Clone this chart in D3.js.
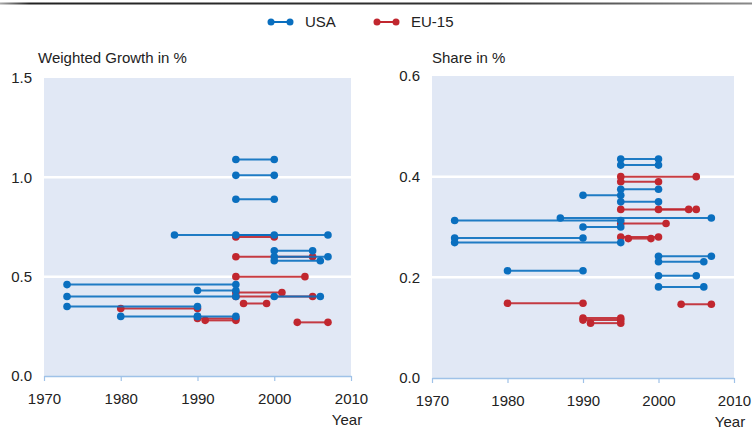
<!DOCTYPE html>
<html><head><meta charset="utf-8">
<script src="https://cdn.jsdelivr.net/npm/d3@7"></script>
<style>
body{margin:0;background:#fff;}
svg text{font-family:"Liberation Sans",Arial,sans-serif;fill:#222;}
</style></head>
<body><svg id="c" width="752" height="432"></svg>
<script>
// ---- data: each segment = [startYear, endYear, value]
const seriesNames = ["USA", "EU-15"];
const xTicks = [1970, 1980, 1990, 2000, 2010];
const growthTicks = [0.0, 0.5, 1.0, 1.5];
const shareTicks = [0.0, 0.2, 0.4, 0.6];

const growthUSA = [
  [1995, 2000, 1.09], [1995, 2000, 1.01], [1995, 2000, 0.89], [1987, 2007, 0.71],
  [1995, 2000, 0.71], [2000, 2005, 0.63], [2000, 2007, 0.60], [2000, 2006, 0.58],
  [1973, 1995, 0.46], [1990, 1995, 0.43], [1973, 1995, 0.40], [2000, 2006, 0.40],
  [1973, 1990, 0.35], [1980, 1990, 0.30], [1990, 1995, 0.30]
];
const growthEU = [
  [1995, 2000, 0.70], [1995, 2005, 0.60], [1995, 2004, 0.50], [1995, 2001, 0.42],
  [1995, 2005, 0.40], [1996, 1999, 0.365], [1980, 1990, 0.34], [1990, 1995, 0.29],
  [1991, 1995, 0.28], [2003, 2007, 0.27]
];
const shareUSA = [
  [1995, 2000, 0.435], [1995, 2000, 0.423], [1995, 2000, 0.375], [1990, 1995, 0.363],
  [1995, 2000, 0.35], [1987, 2007, 0.318], [1973, 1995, 0.313], [1990, 1995, 0.30],
  [1973, 1990, 0.278], [1973, 1995, 0.269], [2000, 2007, 0.242], [2000, 2006, 0.231],
  [1980, 1990, 0.213], [2000, 2005, 0.203], [2000, 2006, 0.181]
];
const shareEU = [
  [1995, 2005, 0.40], [1995, 2000, 0.39], [1995, 2005, 0.335], [2000, 2004, 0.335],
  [1995, 2001, 0.307], [1995, 2000, 0.28], [1996, 1999, 0.277], [1980, 1990, 0.1485],
  [2003, 2007, 0.1465], [1990, 1995, 0.119], [1990, 1995, 0.115], [1991, 1995, 0.109]
];

const colors = {"USA": "#0a6fbf", "EU-15": "#c1272f"};
const FS = 15;
const svg = d3.select("#c");

// top rule
const defs = svg.append("defs");
const g0 = defs.append("linearGradient").attr("id", "topg");
g0.append("stop").attr("offset", "0%").attr("stop-color", "#aaa");
g0.append("stop").attr("offset", "4%").attr("stop-color", "#222");
g0.append("stop").attr("offset", "65%").attr("stop-color", "#333");
g0.append("stop").attr("offset", "100%").attr("stop-color", "#8a8a8a");
svg.append("rect").attr("x", 0).attr("y", 2.5).attr("width", 752).attr("height", 2).attr("fill", "url(#topg)");

// legend
const legendX = [270, 376];
seriesNames.forEach((n, i) => {
  const lg = svg.append("g").attr("transform", `translate(${legendX[i]},22)`);
  lg.append("line").attr("x1", 1).attr("x2", 20).attr("y1", 0).attr("y2", 0)
    .attr("stroke", colors[n]).attr("stroke-width", 2);
  [1, 20].forEach(cx => lg.append("circle").attr("cx", cx).attr("cy", 0).attr("r", 3.5).attr("fill", colors[n]));
  lg.append("text").attr("x", 35).attr("y", 0).attr("dy", "0.35em").attr("font-size", FS).text(n);
});

function panel(opt) {
  const x = d3.scaleLinear().domain([1970, 2010]).range([opt.x0, opt.x1]);
  const y = d3.scaleLinear().domain([0, opt.ymax]).range([opt.yb, opt.yt]);
  const g = svg.append("g");
  g.append("rect").attr("x", opt.x0).attr("y", opt.yt).attr("width", opt.x1 - opt.x0)
    .attr("height", opt.yb - opt.yt).attr("fill", "#e1e8f5");
  // grid
  g.selectAll(".grid").data(opt.yTicks.filter(t => t > 0 && t < opt.ymax)).join("line")
    .attr("x1", opt.x0).attr("x2", opt.x1).attr("y1", d => y(d)).attr("y2", d => y(d))
    .attr("stroke", "#fff").attr("stroke-width", 2.5);
  // y labels
  g.selectAll(".yl").data(opt.yTicks).join("text")
    .attr("x", opt.x0 - 12).attr("y", d => y(d)).attr("dy", "0.35em")
    .attr("text-anchor", "end").attr("font-size", FS).text(d => d.toFixed(1));
  // x axis
  const ax = g.append("g").attr("transform", `translate(0,${opt.yb})`)
    .call(d3.axisBottom(x).tickValues(xTicks).tickFormat(d3.format("d")).tickSize(5).tickSizeOuter(0));
  ax.select(".domain").attr("stroke", "#9fc2e8").attr("stroke-width", 1.5);
  ax.selectAll(".tick line").attr("stroke", "#9fc2e8").attr("stroke-width", 1.2);
  ax.selectAll(".tick text").attr("font-size", FS).attr("fill", "#222").attr("y", 17)
    .attr("font-family", "Liberation Sans, Arial, sans-serif");
  g.append("text").attr("x", opt.x1 - 4).attr("y", opt.yb + 49).attr("text-anchor", "middle")
    .attr("font-size", FS).text("Year");
  g.append("text").attr("x", opt.titleX).attr("y", 63).attr("font-size", FS).text(opt.title);
  // series
  opt.series.forEach(([name, data]) => {
    const c = colors[name];
    const sg = g.append("g");
    sg.selectAll("line").data(data).join("line")
      .attr("x1", d => x(d[0])).attr("x2", d => x(d[1]))
      .attr("y1", d => y(d[2])).attr("y2", d => y(d[2]))
      .attr("stroke", c).attr("stroke-width", 2).attr("stroke-opacity", 0.9);
    const pts = data.flatMap(d => [[d[0], d[2]], [d[1], d[2]]]);
    sg.selectAll("circle").data(pts).join("circle")
      .attr("cx", d => x(d[0])).attr("cy", d => y(d[1])).attr("r", 3.8).attr("fill", c);
  });
}

panel({x0: 44, x1: 351, yt: 78, yb: 376, ymax: 1.5, yTicks: growthTicks,
  title: "Weighted Growth in %", titleX: 38,
  series: [["EU-15", growthEU], ["USA", growthUSA]]});
panel({x0: 432, x1: 734, yt: 76, yb: 378, ymax: 0.6, yTicks: shareTicks,
  title: "Share in %", titleX: 432,
  series: [["EU-15", shareEU], ["USA", shareUSA]]});
</script></body></html>
